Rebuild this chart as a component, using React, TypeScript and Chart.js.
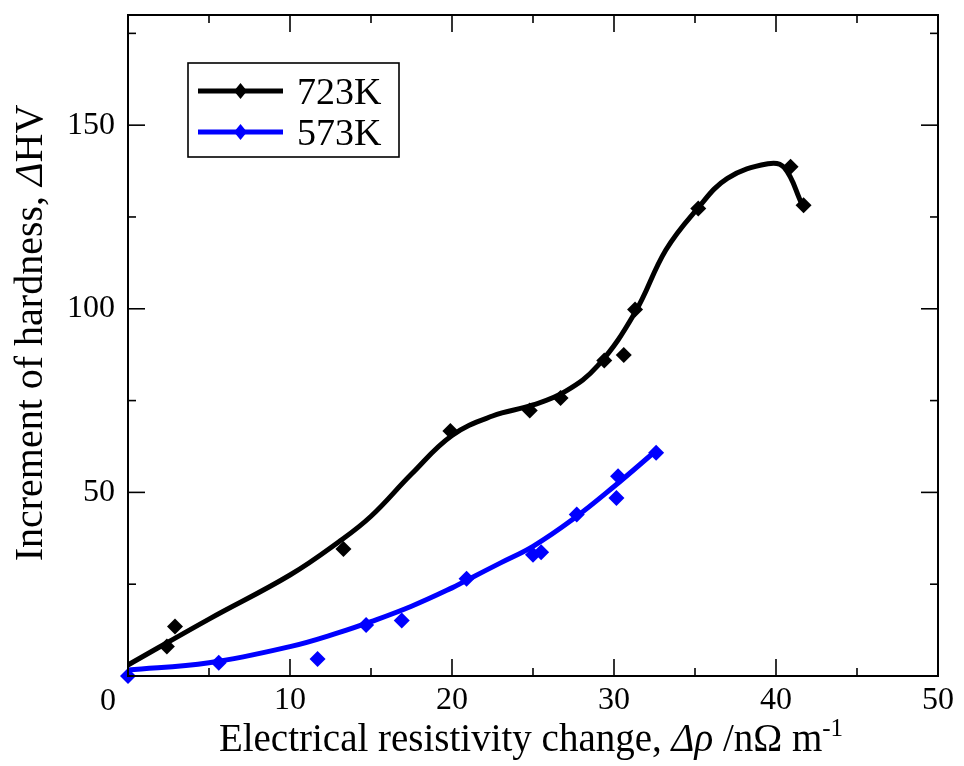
import React, { useEffect, useRef } from 'react';
import { Chart, registerables } from 'chart.js';

Chart.register(...registerables);

const FONT = '"Liberation Serif", "Times New Roman", serif';

// Axis ticks
const xMajorTicks = [0, 10, 20, 30, 40, 50];
const xMinorTicks = [5, 15, 25, 35, 45];
const yMajorTicks = [0, 50, 100, 150];
const yMinorTicks = [25, 75, 125, 175];
const originLabel = '0';

// 723K measured points
const k723PointsX = [2.4, 2.9, 13.3, 19.9, 24.8, 26.7, 29.4, 30.6, 31.3, 35.2, 40.9, 41.7];
const k723PointsY = [8.0, 13.5, 34.6, 66.7, 72.3, 75.7, 85.9, 87.4, 99.8, 127.3, 138.7, 128.2];
// 723K fitted curve
const k723CurveX = [0, 5, 10, 13, 15, 17.5, 20, 22.5, 25, 27, 29, 31.3, 33.2, 35.1, 37, 39.5, 40.5, 41.6];
const k723CurveY = [3, 15.5, 27.5, 36.5, 43.5, 55, 65.5, 70.8, 73.8, 77.5, 84.5, 99, 116, 127, 135.5, 139.5, 138.5, 128.5];

// 573K measured points
const k573PointsX = [0, 5.6, 11.7, 14.7, 16.9, 20.9, 25.0, 25.5, 27.7, 30.15, 30.25, 32.6];
const k573PointsY = [0, 3.6, 4.6, 13.9, 15.1, 26.5, 33.0, 33.7, 44.0, 48.5, 54.4, 60.8];
// 573K fitted curve
const k573CurveX = [0, 5, 10, 13, 15, 17.5, 20, 21, 23, 25, 27.5, 30, 32.5];
const k573CurveY = [1.6, 3.6, 8, 11.8, 14.8, 19, 24, 26.3, 30.8, 35.3, 42.8, 51.6, 61];

const seriesNames = ['723K', '573K'];
const seriesColors = ['#000000', '#0000ff'];

const toPts = (xs: number[], ys: number[]) => xs.map((x, i) => ({ x, y: ys[i] }));

type Run = { t: string; italic?: boolean; size?: number; raise?: number };

function drawRuns(ctx: CanvasRenderingContext2D, runs: Run[], cx: number, baseY: number, base: number) {
  const fontOf = (r: Run) => `${r.italic ? 'italic ' : ''}${r.size ?? base}px ${FONT}`;
  let total = 0;
  runs.forEach((r) => {
    ctx.font = fontOf(r);
    total += ctx.measureText(r.t).width;
  });
  let x = cx - total / 2;
  ctx.textAlign = 'left';
  ctx.textBaseline = 'alphabetic';
  runs.forEach((r) => {
    ctx.font = fontOf(r);
    ctx.fillText(r.t, x, baseY - (r.raise ?? 0));
    x += ctx.measureText(r.t).width;
  });
}

function diamond(ctx: CanvasRenderingContext2D, x: number, y: number, rx: number, ry: number) {
  ctx.beginPath();
  ctx.moveTo(x - rx, y);
  ctx.lineTo(x, y - ry);
  ctx.lineTo(x + rx, y);
  ctx.lineTo(x, y + ry);
  ctx.closePath();
  ctx.fill();
}

const decorPlugin = {
  id: 'decor',
  afterDraw(chart: any) {
    const { ctx, chartArea: a, scales } = chart;
    const xs = scales.x;
    const ys = scales.y;
    ctx.save();
    ctx.strokeStyle = '#000';
    ctx.fillStyle = '#000';
    // frame
    ctx.lineWidth = 2;
    ctx.strokeRect(a.left, a.top, a.right - a.left, a.bottom - a.top);
    ctx.lineWidth = 1.6;
    const seg = (x1: number, y1: number, x2: number, y2: number) => {
      ctx.beginPath();
      ctx.moveTo(x1, y1);
      ctx.lineTo(x2, y2);
      ctx.stroke();
    };
    const xt = (v: number, len: number) => {
      const p = xs.getPixelForValue(v);
      seg(p, a.bottom, p, a.bottom - len);
      seg(p, a.top, p, a.top + len);
    };
    const yt = (v: number, len: number) => {
      const p = ys.getPixelForValue(v);
      seg(a.left, p, a.left + len, p);
      seg(a.right, p, a.right - len, p);
    };
    xMajorTicks.forEach((v) => xt(v, 17));
    xMinorTicks.forEach((v) => xt(v, 8));
    yMajorTicks.forEach((v) => yt(v, 17));
    yMinorTicks.forEach((v) => yt(v, 8));

    // origin label
    ctx.font = `32px ${FONT}`;
    ctx.textAlign = 'right';
    ctx.textBaseline = 'alphabetic';
    ctx.fillText(originLabel, a.left - 12, a.bottom + 34);

    // x title
    drawRuns(
      ctx,
      [
        { t: 'Electrical resistivity change, ' },
        { t: 'Δρ', italic: true },
        { t: ' /nΩ m' },
        { t: '-1', size: 25, raise: 15 },
      ],
      (a.left + a.right) / 2 - 2,
      751,
      39
    );

    // y title
    ctx.save();
    ctx.translate(42, 333);
    ctx.rotate(-Math.PI / 2);
    drawRuns(ctx, [{ t: 'Increment of hardness, ' }, { t: 'Δ', italic: true }, { t: 'HV' }], 0, 0, 40);
    ctx.restore();

    // legend
    const lx = 188, ly = 63, lw = 211, lh = 94;
    ctx.lineWidth = 1.6;
    ctx.strokeStyle = '#000';
    ctx.strokeRect(lx, ly, lw, lh);
    const rowsY = [91, 132];
    seriesNames.forEach((name, i) => {
      const y = rowsY[i];
      ctx.strokeStyle = seriesColors[i];
      ctx.fillStyle = seriesColors[i];
      ctx.lineWidth = 5;
      seg(198, y, 283, y);
      diamond(ctx, 240.5, y, 6.5, 8);
      ctx.fillStyle = '#000';
      ctx.font = `38px ${FONT}`;
      ctx.textAlign = 'left';
      ctx.textBaseline = 'alphabetic';
      ctx.fillText(name, 297, y + 13);
    });
    ctx.restore();
  },
};

export default function App() {
  const ref = useRef<HTMLCanvasElement>(null);
  useEffect(() => {
    if (!ref.current) return;
    const chart = new Chart(ref.current, {
      type: 'scatter',
      data: {
        datasets: [
          {
            label: seriesNames[0] + ' data',
            data: toPts(k723PointsX, k723PointsY),
            showLine: false,
            pointStyle: 'rectRot',
            pointRadius: 8,
            backgroundColor: seriesColors[0],
            borderColor: seriesColors[0],
            borderWidth: 0,
            clip: false as any,
          },
          {
            label: seriesNames[1] + ' data',
            data: toPts(k573PointsX, k573PointsY),
            showLine: false,
            pointStyle: 'rectRot',
            pointRadius: 8,
            backgroundColor: seriesColors[1],
            borderColor: seriesColors[1],
            borderWidth: 0,
            clip: false as any,
          },
          {
            label: seriesNames[0],
            data: toPts(k723CurveX, k723CurveY),
            showLine: true,
            pointRadius: 0,
            borderColor: seriesColors[0],
            borderWidth: 5,
            tension: 0.4,
            fill: false,
          },
          {
            label: seriesNames[1],
            data: toPts(k573CurveX, k573CurveY),
            showLine: true,
            pointRadius: 0,
            borderColor: seriesColors[1],
            borderWidth: 5,
            tension: 0.4,
            fill: false,
          },
        ],
      },
      options: {
        responsive: false,
        animation: false,
        layout: { padding: { top: 15, right: 26, left: 0, bottom: 0 } },
        plugins: { legend: { display: false }, tooltip: { enabled: false } },
        scales: {
          x: {
            type: 'linear',
            min: 0,
            max: 50,
            grid: { display: false, drawTicks: false },
            border: { display: false },
            ticks: {
              stepSize: 10,
              padding: 5,
              color: '#000',
              font: { family: FONT, size: 32 },
              maxRotation: 0,
              callback: (v: any) => (xMajorTicks.includes(v) && v !== 0 ? String(v) : ''),
            },
            afterFit: (s: any) => {
              s.height = 90;
              s.paddingLeft = 0;
              s.paddingRight = 0;
            },
          },
          y: {
            type: 'linear',
            min: 0,
            max: 180,
            grid: { display: false, drawTicks: false },
            border: { display: false },
            ticks: {
              stepSize: 50,
              includeBounds: false,
              padding: 13,
              color: '#000',
              font: { family: FONT, size: 32 },
              callback: (v: any) => (yMajorTicks.includes(v) && v !== 0 ? String(v) : ''),
            },
            afterFit: (s: any) => {
              s.width = 128;
              s.paddingTop = 0;
              s.paddingBottom = 0;
            },
          },
        },
      },
      plugins: [decorPlugin],
    } as any);
    return () => chart.destroy();
  }, []);
  return (
    <div style={{ position: 'absolute', left: 0, top: 0, width: 964, height: 766, background: '#fff' }}>
      <canvas ref={ref} width={964} height={766} />
    </div>
  );
}
